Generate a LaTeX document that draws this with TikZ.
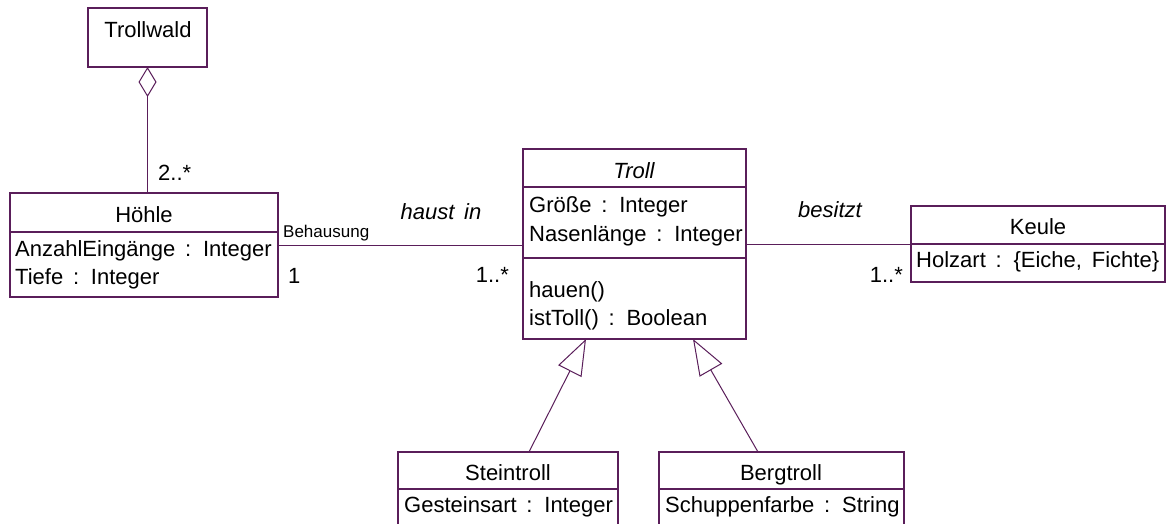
\documentclass[tikz,border=0pt]{standalone}
\usepackage{fontspec}
\setmainfont{Liberation Sans}[WordSpace=1.6]
\usetikzlibrary{arrows.meta}
\definecolor{uml}{HTML}{5A1E5A}
\tikzset{
  box/.style={draw=uml, line width=1.2pt, rectangle, anchor=north west, inner sep=0pt, outer sep=0pt},
  sep/.style={draw=uml, line width=1.2pt},
  assoc/.style={draw=uml, line width=1pt},
  txt/.style={inner sep=0pt, font=\fontsize{22}{26}\selectfont},
  ital/.style={txt, font=\fontsize{22}{26}\selectfont\itshape},
  small/.style={inner sep=0pt, font=\fontsize{17}{20}\selectfont},
  agg/.style={assoc, -{Diamond[open, length=30pt, width=18pt, line width=1pt]}},
  gen/.style={assoc, -{Triangle[open, length=36pt, width=26pt, line width=1pt]}},
}
\begin{document}
\begin{tikzpicture}[x=1pt, y=-1pt]
\clip (0,0) rectangle (1166,524);
\fill[white] (0,0) rectangle (1166,524);

% boxes
\node[box, minimum width=119pt, minimum height=59pt] (wald) at (88,8) {};
\node[box, minimum width=268pt, minimum height=104pt] (hoehle) at (10,193) {};
\node[box, minimum width=223pt, minimum height=190pt] (troll) at (523,149) {};
\node[box, minimum width=254pt, minimum height=76pt] (keule) at (911,206) {};
\node[box, minimum width=220pt, minimum height=100pt] (stein) at (398,452) {};
\node[box, minimum width=245pt, minimum height=100pt] (berg) at (659,452) {};

% compartment dividers
\draw[sep] ([yshift=-39pt]hoehle.north west) -- ([yshift=-39pt]hoehle.north east);
\draw[sep] ([yshift=-38pt]troll.north west) -- ([yshift=-38pt]troll.north east);
\draw[sep] ([yshift=-109pt]troll.north west) -- ([yshift=-109pt]troll.north east);
\draw[sep] ([yshift=-38pt]keule.north west) -- ([yshift=-38pt]keule.north east);
\draw[sep] ([yshift=-37pt]stein.north west) -- ([yshift=-37pt]stein.north east);
\draw[sep] ([yshift=-37pt]berg.north west) -- ([yshift=-37pt]berg.north east);

% texts
\node[txt, anchor=base] (waldname) at (148,38) {Trollwald};
\node[txt, anchor=base] (hoehlename) at (144,222) {Höhle};
\node[txt, anchor=base west] (h1) at (15,256) {AnzahlEingänge : Integer};
\node[txt, anchor=base west] (h2) at (15,284) {Tiefe : Integer};
\node[ital, anchor=base] (trollname) at (634,178) {Troll};
\node[txt, anchor=base west] (t1) at (529,212) {Größe : Integer};
\node[txt, anchor=base west] (t2) at (529,241) {Nasenlänge : Integer};
\node[txt, anchor=base west] (t3) at (529,297) {hauen()};
\node[txt, anchor=base west] (t4) at (529,325) {istToll() : Boolean};
\node[txt, anchor=base] (keulename) at (1038,234) {Keule};
\node[txt, anchor=base west] (k1) at (916,267) {Holzart : \{Eiche, Fichte\}};
\node[txt, anchor=base] (steinname) at (508,480) {Steintroll};
\node[txt, anchor=base west] (s1) at (404,512) {Gesteinsart : Integer};
\node[txt, anchor=base] (bergname) at (781,480) {Bergtroll};
\node[txt, anchor=base west] (b1) at (665,512) {Schuppenfarbe : String};

% connectors
\draw[agg] (wald.south |- hoehle.north) -- (wald.south);
\draw[assoc] (hoehle.east) -- (hoehle.east -| troll.west);
\draw[assoc] (troll.east |- keule.west) -- (keule.west);
\draw[gen] ([xshift=131pt]stein.north west) -- ([xshift=63pt]troll.south west);
\draw[gen] ([xshift=99pt]berg.north west) -- ([xshift=170pt]troll.south west);

% connector labels
\node[txt, anchor=base west] (m1) at (158,180) {2..*};
\node[small, anchor=base west] (role) at (283,237) {Behausung};
\node[ital, anchor=base] (haust) at (441,219) {haust in};
\node[txt, anchor=base west] (m2) at (288,283) {1};
\node[txt, anchor=base east] (m3) at (509,282) {1..*};
\node[ital, anchor=base] (besitzt) at (830,217) {besitzt};
\node[txt, anchor=base east] (m4) at (903,282) {1..*};
\end{tikzpicture}
\end{document}
